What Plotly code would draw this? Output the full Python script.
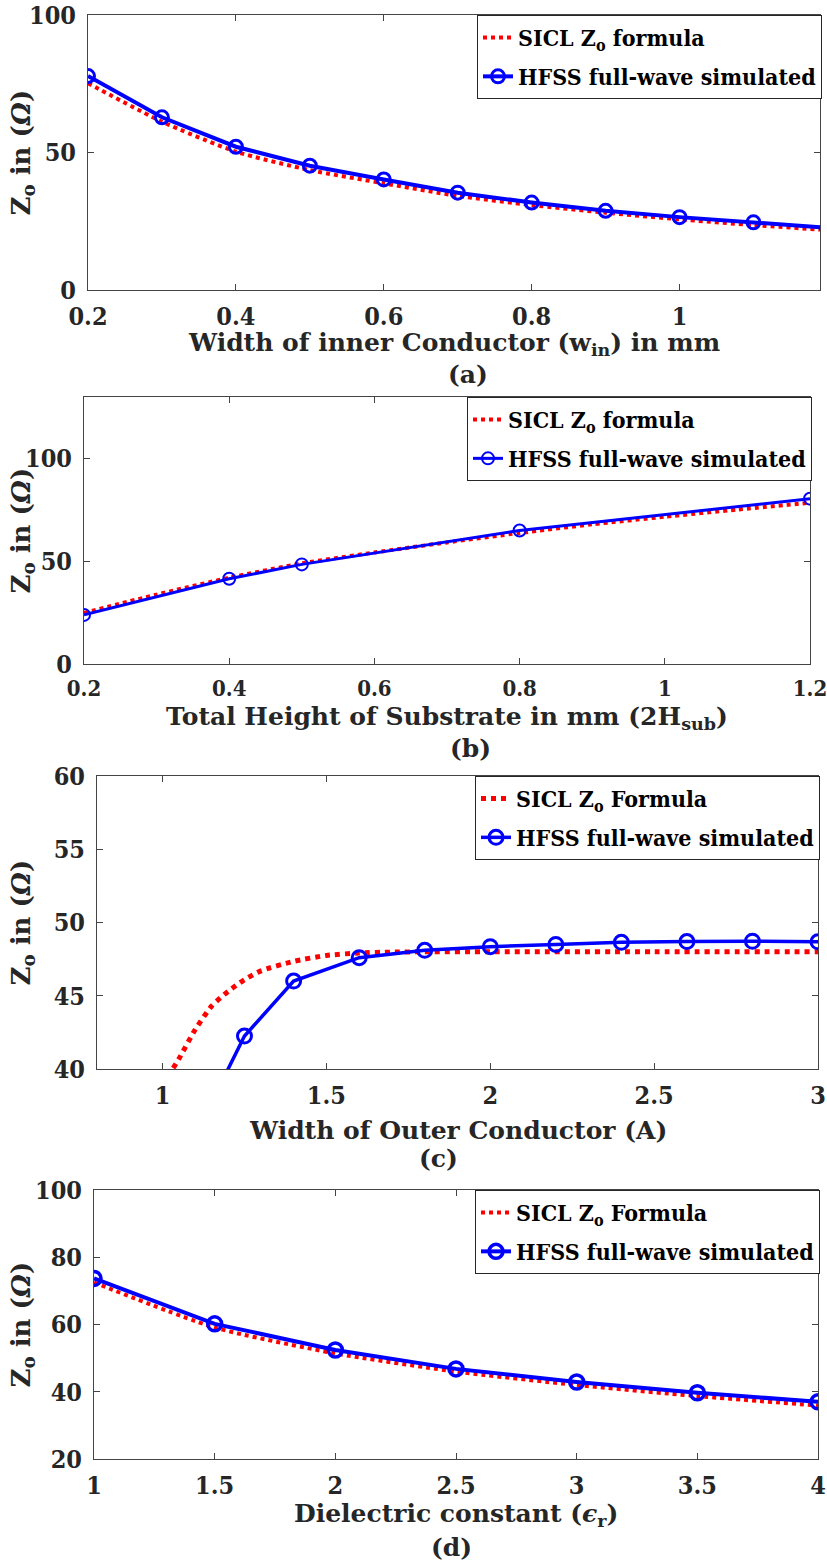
import plotly.graph_objects as go

W, H = 827, 1562

# ---------------- data ----------------
w_in = [0.2, 0.3, 0.4, 0.5, 0.6, 0.7, 0.8, 0.9, 1.0, 1.1, 1.2]
zo_hfss_a = [77.8, 62.8, 52.1, 45.2, 40.2, 35.4, 31.8, 28.8, 26.5, 24.6, 22.6]
zo_formula_a = [75.2, 61.2, 50.3, 43.6, 38.8, 34.2, 30.9, 28.1, 25.7, 23.6, 21.8]

h_hfss = [0.2, 0.4, 0.5, 0.8, 1.2]
zo_hfss_b = [23.9, 41.5, 48.5, 65.0, 80.5]
h_formula = [0.2, 0.3, 0.4, 0.5, 0.6, 0.7, 0.8, 0.9, 1.0, 1.1, 1.2]
zo_formula_b = [24.9, 33.8, 42.0, 49.0, 54.3, 59.2, 63.8, 68.0, 71.7, 75.2, 78.5]

a_hfss = [1.1, 1.25, 1.4, 1.6, 1.8, 2.0, 2.2, 2.4, 2.6, 2.8, 3.0]
zo_hfss_c = [35.5, 42.25, 46.0, 47.6, 48.1, 48.35, 48.5, 48.65, 48.7, 48.72, 48.68]
a_formula = [1.0, 1.05, 1.1, 1.15, 1.2, 1.25, 1.3, 1.4, 1.5, 1.6, 1.7, 1.8, 2.0, 2.5, 3.0]
zo_formula_c = [38.9, 40.7, 42.7, 44.3, 45.3, 46.1, 46.7, 47.35, 47.75, 47.92, 47.98, 48.0, 48.0, 48.0, 48.0]

eps_r = [1.0, 1.5, 2.0, 2.5, 3.0, 3.5, 4.0]
zo_hfss_d = [73.7, 60.2, 52.4, 46.8, 42.9, 39.7, 37.0]
zo_formula_d = [72.5, 59.1, 51.4, 46.0, 42.0, 38.7, 35.9]

xt_a = [0.2, 0.4, 0.6, 0.8, 1.0]; xt_a_lbl = ["0.2", "0.4", "0.6", "0.8", "1"]
yt_a = [0, 50, 100]; yt_a_lbl = ["0", "50", "100"]
xt_b = [0.2, 0.4, 0.6, 0.8, 1.0, 1.2]; xt_b_lbl = ["0.2", "0.4", "0.6", "0.8", "1", "1.2"]
yt_b = [0, 50, 100]; yt_b_lbl = ["0", "50", "100"]
xt_c = [1, 1.5, 2, 2.5, 3]; xt_c_lbl = ["1", "1.5", "2", "2.5", "3"]
yt_c = [40, 45, 50, 55, 60]; yt_c_lbl = ["40", "45", "50", "55", "60"]
xt_d = [1, 1.5, 2, 2.5, 3, 3.5, 4]; xt_d_lbl = ["1", "1.5", "2", "2.5", "3", "3.5", "4"]
yt_d = [20, 40, 60, 80, 100]; yt_d_lbl = ["20", "40", "60", "80", "100"]

F_COND = "DejaVu Serif Condensed"
F_SERIF = "DejaVu Serif"
TXT = "#262626"
RED = "#FF0000"
BLUE = "#0000FF"

def px(x):
    return x / W

def py(y):
    return 1 - y / H

boxes = [(88, 820, 15, 290), (84, 810, 397, 664), (97, 818, 776, 1069), (94, 818, 1190, 1459)]
xranges = [[0.2, 1.19], [0.2, 1.2], [0.8, 3.0], [1.0, 4.0]]
yranges = [[0, 100], [0, 130], [40, 60], [20, 100]]
xticks = [(xt_a, xt_a_lbl), (xt_b, xt_b_lbl), (xt_c, xt_c_lbl), (xt_d, xt_d_lbl)]
yticks = [(yt_a, yt_a_lbl), (yt_b, yt_b_lbl), (yt_c, yt_c_lbl), (yt_d, yt_d_lbl)]
xtick_sizes = [25, 22, 25, 25]

fig = go.Figure()

series = [
    (w_in, zo_formula_a, w_in, zo_hfss_a, "SICL Z<sub>o</sub> formula", 4, 4, 13, 3),
    (h_formula, zo_formula_b, h_hfss, zo_hfss_b, "SICL Z<sub>o</sub> formula", 4, 3, 12, 2),
    (a_formula, zo_formula_c, a_hfss, zo_hfss_c, "SICL Z<sub>o</sub> Formula", 5, 3.5, 14, 3),
    (eps_r, zo_formula_d, eps_r, zo_hfss_d, "SICL Z<sub>o</sub> Formula", 4, 4, 14, 3.5),
]

for i, (xf, yf, xh, yh, lbl, rw, bw, ms, mw) in enumerate(series):
    sfx = "" if i == 0 else str(i + 1)
    leg = "legend" + sfx
    fig.add_trace(go.Scatter(
        x=xf, y=yf, mode="lines", name="<b>" + lbl + "</b>",
        line=dict(color=RED, width=rw, dash="dot", shape="spline", smoothing=0.6),
        xaxis="x" + sfx, yaxis="y" + sfx, legend=leg, legendgroup="f" + str(i)))
    fig.add_trace(go.Scatter(
        x=xh, y=yh, mode="lines+markers", name="<b>HFSS full-wave simulated</b>",
        line=dict(color=BLUE, width=bw),
        marker=dict(symbol="circle-open", size=ms, color=BLUE, line=dict(width=mw, color=BLUE)),
        xaxis="x" + sfx, yaxis="y" + sfx, legend=leg, legendgroup="h" + str(i)))

layout = dict(
    width=W, height=H, margin=dict(l=0, r=0, t=0, b=0, autoexpand=False),
    paper_bgcolor="white", plot_bgcolor="white",
    font=dict(family=F_SERIF, color=TXT, size=24),
    showlegend=True,
)

annotations = []
xtitles = ["Width of inner Conductor (w<sub>in</sub>) in mm",
           "Total Height of Substrate in mm (2H<sub>sub</sub>)",
           "Width of Outer Conductor (A)",
           "Dielectric constant (<i>ϵ</i><sub>r</sub>)"]
xtitle_y = [344, 718, 1130, 1515]
plabels = ["(a)", "(b)", "(c)", "(d)"]
plabel_pos = [(468, 374), (470, 748), (438, 1158), (451, 1547)]

for i, (l, r, t, b) in enumerate(boxes):
    sfx = "" if i == 0 else str(i + 1)
    yfont = dict(family=F_COND, color=TXT, size=25)
    xfont = dict(family=F_COND, color=TXT, size=xtick_sizes[i])
    layout["xaxis" + sfx] = dict(
        domain=[px(l), px(r)], range=xranges[i], anchor="y" + sfx,
        tickvals=xticks[i][0], ticktext=["<b>" + s + "</b>" for s in xticks[i][1]], tickfont=xfont,
        ticks="inside", ticklen=6, tickcolor="#444", tickwidth=1,
        showline=True, linecolor="#444", linewidth=1, mirror="ticks",
        showgrid=False, zeroline=False, ticklabelstandoff=4 + (25 - xtick_sizes[i]) // 2,
        automargin=False, ticklabeloverflow="allow")
    layout["yaxis" + sfx] = dict(
        domain=[py(b), py(t)], range=yranges[i], anchor="x" + sfx,
        tickvals=yticks[i][0], ticktext=["<b>" + s + "</b>" for s in yticks[i][1]], tickfont=yfont,
        ticks="inside", ticklen=6, tickcolor="#444", tickwidth=1,
        showline=True, linecolor="#444", linewidth=1, mirror="ticks",
        showgrid=False, zeroline=False, ticklabelstandoff=6, automargin=False,
        ticklabeloverflow="allow")
    legkey = "legend" + sfx
    layout[legkey] = dict(
        x=px(r + 2), y=py(t), xanchor="right", yanchor="top",
        bgcolor="white", bordercolor="#262626", borderwidth=1,
        font=dict(family=F_COND, color="black", size=23),
        itemwidth=30, tracegroupgap=6)
    annotations.append(dict(
        x=px(22), y=py((t + b) / 2), xref="paper", yref="paper",
        text="<b>Z<sub>o</sub> in (<i>Ω</i>)</b>", textangle=-90, showarrow=False,
        xanchor="center", yanchor="middle",
        font=dict(family=F_SERIF, color=TXT, size=26)))
    annotations.append(dict(
        x=px((l + r) / 2), y=py(xtitle_y[i]), xref="paper", yref="paper",
        text="<b>" + xtitles[i] + "</b>", showarrow=False, xanchor="center", yanchor="middle",
        font=dict(family=F_SERIF, color=TXT, size=25)))
    annotations.append(dict(
        x=px(plabel_pos[i][0]), y=py(plabel_pos[i][1]), xref="paper", yref="paper",
        text="<b>" + plabels[i] + "</b>", showarrow=False, xanchor="center", yanchor="middle",
        font=dict(family=F_SERIF, color=TXT, size=25)))

layout["annotations"] = annotations
fig.update_layout(**layout)
fig.write_html("out.html")
